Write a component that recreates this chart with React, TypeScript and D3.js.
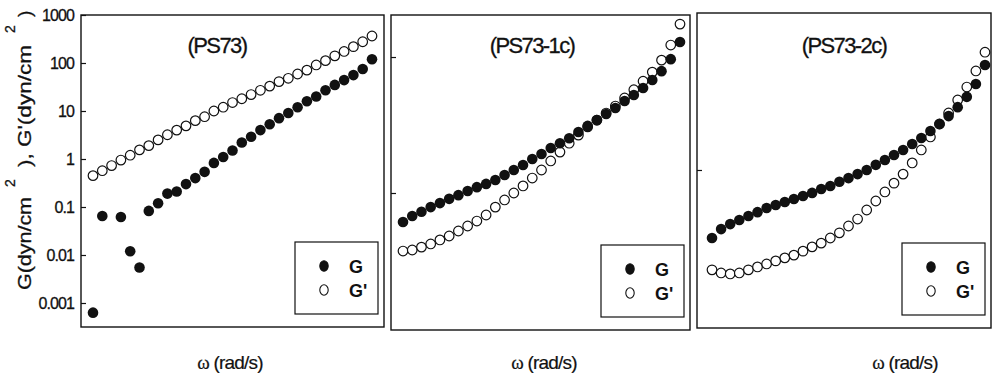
import { useEffect, useRef } from 'react';
import * as d3 from 'd3';

// angular frequency (rad/s), 10 points per decade
const omega = [0.1, 0.1259, 0.1585, 0.1995, 0.2512, 0.3162, 0.3981, 0.5012, 0.631, 0.7943,
  1, 1.259, 1.585, 1.995, 2.512, 3.162, 3.981, 5.012, 6.31, 7.943,
  10, 12.59, 15.85, 19.95, 25.12, 31.62, 39.81, 50.12, 63.1, 79.43, 100];

const titles = ['(PS73)', '(PS73-1c)', '(PS73-2c)'];
const seriesNames = ['G', "G'"];

// PS73
const ps73G = [0.00063, 0.065, null, 0.062, 0.012, 0.0055, 0.083, 0.12, 0.19, 0.21,
  0.30, 0.40, 0.54, 0.83, 1.1, 1.5, 2.2, 2.9, 4.0, 5.3,
  7.1, 9.1, 12, 16, 20, 27, 35, 44, 56, 75, 120];
const ps73Gp = [0.45, 0.57, 0.73, 0.95, 1.2, 1.55, 1.9, 2.5, 3.2, 4.0,
  4.9, 6.3, 7.6, 10, 12, 15, 18, 22, 27, 33,
  41, 48, 59, 71, 91, 112, 141, 174, 219, 277, 365];

// PS73-1c
const ps731cG = [0.375, 0.46, 0.53, 0.62, 0.71, 0.82, 0.93, 1.07, 1.22, 1.36,
  1.55, 1.84, 2.18, 2.58, 3.16, 3.75, 4.59, 5.4, 6.4, 7.9,
  9.7, 11.8, 14.5, 17.8, 22.5, 27.6, 35, 46, 62, 93, 166];
const ps731cGp = [0.14, 0.145, 0.16, 0.178, 0.204, 0.233, 0.276, 0.327, 0.387, 0.475,
  0.62, 0.79, 1.0, 1.27, 1.66, 2.18, 2.96, 4.0, 5.4, 7.1,
  9.4, 11.8, 15, 19, 25, 33, 44, 60, 90, 150, 305];

// PS73-2c
const ps732cG = [0.10, 0.135, 0.16, 0.184, 0.21, 0.24, 0.276, 0.305, 0.338, 0.375,
  0.415, 0.46, 0.525, 0.58, 0.67, 0.76, 0.87, 1.0, 1.19, 1.40,
  1.66, 1.97, 2.41, 2.96, 3.75, 4.75, 6.2, 8.4, 11.9, 18.4, 35];
const ps732cGp = [0.034, 0.0306, 0.0296, 0.0306, 0.034, 0.0375, 0.0415, 0.046, 0.051, 0.056,
  0.064, 0.074, 0.084, 0.10, 0.119, 0.15, 0.19, 0.258, 0.35, 0.475,
  0.64, 0.87, 1.27, 1.97, 3.06, 4.75, 6.9, 10.7, 16.6, 28.6, 54];

const yTickValues = [1000, 100, 10, 1, 0.1, 0.01, 0.001];
const yTickLabels = ['1000', '100', '10', '1', '0.1', '0.01', '0.001'];

const FONT = '"Liberation Sans", Arial, sans-serif';

export default function App() {
  const svgRef = useRef<SVGSVGElement>(null);

  useEffect(() => {
    document.body.style.margin = '0';
    const svg = d3.select(svgRef.current);
    svg.selectAll('*').remove();

    const panels = [
      { g: ps73G, gp: ps73Gp, x0: 81, x1: 384, y0: 15, y1: 327, padL: 12, padR: 12,
        yDomain: [Math.pow(10, -3.5), 1000], ticks: yTickValues, labels: true, titleX: 217, xLabelX: 230 },
      { g: ps731cG, gp: ps731cGp, x0: 391, x1: 690, y0: 15, y1: 330, padL: 12, padR: 10,
        yDomain: [Math.pow(10, -2.015), Math.pow(10, 2.618)], ticks: [100, 1], labels: false, titleX: 532, xLabelX: 544 },
      { g: ps732cG, gp: ps732cGp, x0: 697, x1: 991, y0: 13, y1: 328, padL: 15, padR: 6,
        yDomain: [Math.pow(10, -2.324), Math.pow(10, 2.309)], ticks: [1], labels: false, titleX: 844, xLabelX: 905 },
    ];

    panels.forEach((p, pi) => {
      const x = d3.scaleLog().domain([omega[0], omega[omega.length - 1]]).range([p.x0 + p.padL, p.x1 - p.padR]);
      const y = d3.scaleLog().domain(p.yDomain).range([p.y1, p.y0]);
      const gp = svg.append('g');

      // frame
      gp.append('rect')
        .attr('x', p.x0).attr('y', p.y0)
        .attr('width', p.x1 - p.x0).attr('height', p.y1 - p.y0)
        .attr('fill', 'none').attr('stroke', '#111').attr('stroke-width', 1.4);

      // y axis ticks
      const axis = gp.append('g')
        .attr('transform', `translate(${p.x0},0)`)
        .call(d3.axisLeft(y).tickValues(p.ticks).tickSize(-5).tickPadding(7)
          .tickFormat((d) => p.labels ? yTickLabels[yTickValues.indexOf(d as number)] : ''));
      axis.select('.domain').remove();
      axis.selectAll('line').attr('stroke', '#111').attr('stroke-width', 1.2);
      axis.selectAll('text')
        .attr('font-family', FONT).attr('font-size', 16)
        .attr('letter-spacing', -0.9).attr('fill', '#111')
        .attr('stroke', '#111').attr('stroke-width', 0.3);

      const pts = omega.map((w, i) => ({ w, g: p.g[i], gp: p.gp[i] }));

      // G' open circles
      gp.selectAll('.open')
        .data(pts.filter(d => d.gp != null))
        .join('circle')
        .attr('class', 'open')
        .attr('cx', d => x(d.w)).attr('cy', d => y(d.gp as number))
        .attr('r', 4.8)
        .attr('fill', 'white').attr('stroke', '#111').attr('stroke-width', 1.2);

      // G filled circles
      gp.selectAll('.filled')
        .data(pts.filter(d => d.g != null))
        .join('circle')
        .attr('class', 'filled')
        .attr('cx', d => x(d.w)).attr('cy', d => y(d.g as number))
        .attr('r', 5.3)
        .attr('fill', '#111');

      // panel title
      gp.append('text')
        .attr('x', p.titleX).attr('y', 53)
        .attr('text-anchor', 'middle')
        .attr('font-family', FONT).attr('font-size', 22).attr('letter-spacing', -1.6)
        .attr('fill', '#111').attr('stroke', '#111').attr('stroke-width', 0.3)
        .text(titles[pi]);

      // x label
      const xl = gp.append('text')
        .attr('x', p.xLabelX).attr('y', 369)
        .attr('text-anchor', 'middle')
        .attr('font-family', FONT).attr('font-size', 19).attr('letter-spacing', -0.8)
        .attr('fill', '#111').attr('stroke', '#111').attr('stroke-width', 0.2);
      xl.append('tspan').attr('font-family', '"Liberation Serif", serif').text('ω');
      xl.append('tspan').text(' (rad/s)');

      // legend
      const lx = p.x1 - 6 - 83;
      const ly = p.y1 - 13 - 72;
      gp.append('rect')
        .attr('x', lx).attr('y', ly).attr('width', 83).attr('height', 72)
        .attr('fill', 'white').attr('stroke', '#111').attr('stroke-width', 1.2);
      seriesNames.forEach((name, si) => {
        const ry = ly + 24 + si * 24;
        gp.append('ellipse')
          .attr('cx', lx + 29).attr('cy', ry)
          .attr('rx', 4.2).attr('ry', 5.2)
          .attr('fill', si === 0 ? '#111' : 'white')
          .attr('stroke', '#111').attr('stroke-width', 1.1);
        gp.append('text')
          .attr('x', lx + 54).attr('y', ry + 7)
          .attr('font-family', FONT).attr('font-size', 18).attr('font-weight', 'bold')
          .attr('fill', '#111')
          .text(name);
      });
    });

    // y axis title
    const yt = svg.append('text')
      .attr('transform', 'translate(31,290) rotate(-90)')
      .attr('font-family', FONT).attr('font-size', 19).attr('fill', '#111')
      .attr('stroke', '#111').attr('stroke-width', 0.3);
    yt.append('tspan').attr('x', 0).attr('y', 0)
      .attr('textLength', 93).attr('lengthAdjust', 'spacingAndGlyphs').text('G(dyn/cm');
    yt.append('tspan').attr('x', 103).attr('y', -16).attr('font-size', 14).text('2');
    yt.append('tspan').attr('x', 123).attr('y', 0)
      .attr('textLength', 122).attr('lengthAdjust', 'spacingAndGlyphs').text("), G'(dyn/cm");
    yt.append('tspan').attr('x', 257).attr('y', -16).attr('font-size', 14).text('2');
    yt.append('tspan').attr('x', 273).attr('y', 0).text(')');
  }, []);

  return (
    <svg ref={svgRef} width={993} height={376} style={{ display: 'block', background: 'white' }} />
  );
}
